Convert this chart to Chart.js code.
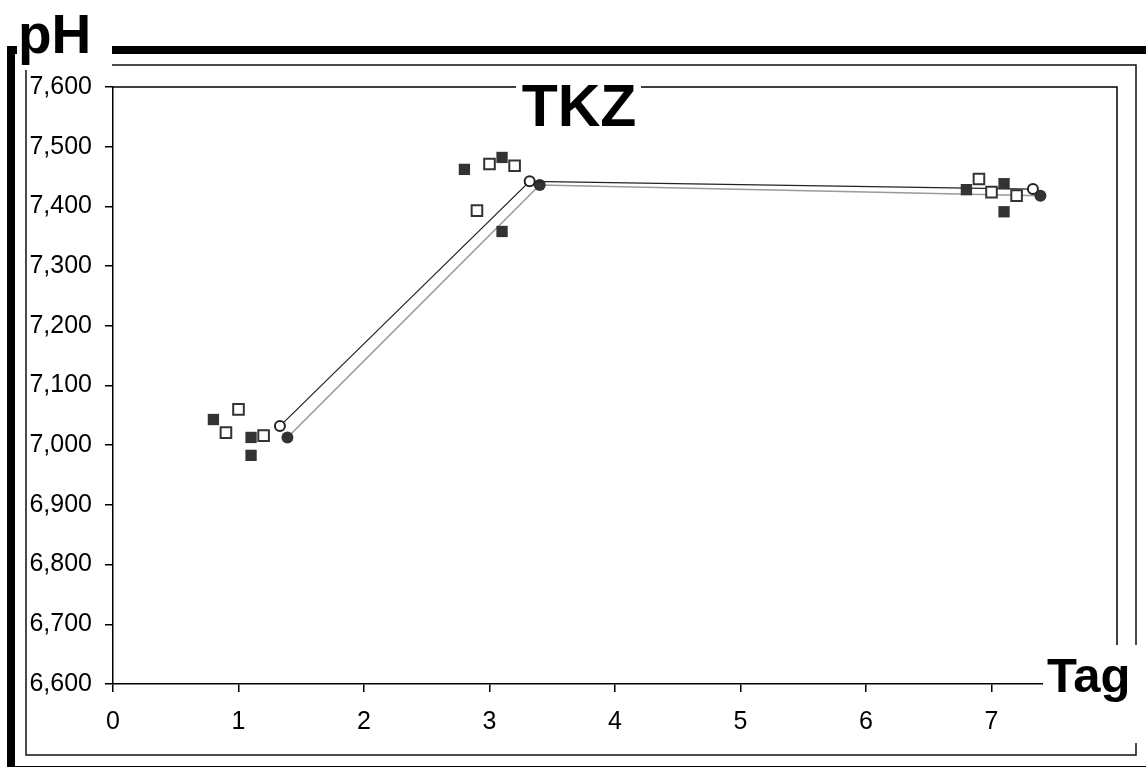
<!DOCTYPE html>
<html>
<head>
<meta charset="utf-8">
<script src="https://cdn.jsdelivr.net/npm/chart.js@4.4.1/dist/chart.umd.min.js"></script>
<style>
html,body{margin:0;padding:0;background:#fff;}
canvas{display:block;}
</style>
</head>
<body>
<canvas id="c" width="1146" height="767"></canvas>
<script>
// ---- data ----
const chartTitle = 'TKZ';
const yTitle = 'pH';
const xTitle = 'Tag';
const xTicks = [0, 1, 2, 3, 4, 5, 6, 7];
const yTicks = [6.6, 6.7, 6.8, 6.9, 7.0, 7.1, 7.2, 7.3, 7.4, 7.5, 7.6];

const filledSquaresX = [0.8, 1.1, 1.1, 2.8, 3.1, 3.1, 6.8, 7.1, 7.1];
const filledSquaresY = [7.043, 7.013, 6.983, 7.462, 7.482, 7.358, 7.428, 7.438, 7.391];
const openSquaresX = [0.9, 1.0, 1.2, 2.9, 3.0, 3.2, 6.9, 7.0, 7.2];
const openSquaresY = [7.021, 7.060, 7.016, 7.393, 7.471, 7.468, 7.446, 7.424, 7.418];
const openMeanX = [1.33, 3.32, 7.33];
const openMeanY = [7.032, 7.442, 7.429];
const filledMeanX = [1.39, 3.40, 7.39];
const filledMeanY = [7.013, 7.436, 7.418];

const toPts = (xs, ys) => xs.map((x, i) => ({x: x, y: ys[i]}));
const FONT = "'Liberation Sans', Arial, sans-serif";

const deco = {
  id: 'deco',
  afterDraw(chart) {
    const ctx = chart.ctx;
    const a = chart.chartArea;
    ctx.save();
    // plot top & right border
    ctx.strokeStyle = '#000';
    ctx.lineWidth = 1.5;
    ctx.beginPath();
    ctx.moveTo(a.left, a.top); ctx.lineTo(a.right, a.top); ctx.lineTo(a.right, a.bottom);
    ctx.stroke();
    // thin outer frame
    ctx.lineWidth = 1.5;
    ctx.strokeStyle = '#111';
    ctx.strokeRect(26, 65, 1110, 690);
    // thick frame
    ctx.lineWidth = 8;
    ctx.strokeStyle = '#000';
    ctx.strokeRect(11, 50, 1200, 720);
    // label boxes
    ctx.fillStyle = '#fff';
    ctx.fillRect(17, 0, 95, 70);
    ctx.fillRect(516, 72, 125, 50);
    ctx.fillRect(1043, 645, 103, 98);
    ctx.fillStyle = '#000';
    ctx.textBaseline = 'alphabetic';
    ctx.font = 'bold 55px ' + FONT;
    ctx.textAlign = 'left';
    ctx.fillText(yTitle, 18, 53);
    ctx.font = 'bold 59px ' + FONT;
    ctx.textAlign = 'center';
    ctx.fillText(chartTitle, 579, 126);
    ctx.font = 'bold 49px ' + FONT;
    ctx.textAlign = 'left';
    ctx.fillText(xTitle, 1047, 692);
    ctx.restore();
  }
};

new Chart(document.getElementById('c'), {
  type: 'scatter',
  data: {
    datasets: [
      {
        label: 'filled squares',
        data: toPts(filledSquaresX, filledSquaresY),
        pointStyle: 'rect', pointRadius: 8, pointHoverRadius: 8,
        backgroundColor: '#333', borderColor: '#333', borderWidth: 0,
        showLine: false
      },
      {
        label: 'open squares',
        data: toPts(openSquaresX, openSquaresY),
        pointStyle: 'rect', pointRadius: 7.5, pointHoverRadius: 7.5,
        backgroundColor: '#fff', borderColor: '#333', borderWidth: 2,
        showLine: false
      },
      {
        label: 'open mean',
        data: toPts(openMeanX, openMeanY),
        pointStyle: 'circle', pointRadius: 5, pointHoverRadius: 5,
        pointBackgroundColor: '#fff', pointBorderColor: '#222', pointBorderWidth: 2,
        showLine: true, borderColor: '#222', borderWidth: 1.2, fill: false
      },
      {
        label: 'filled mean',
        data: toPts(filledMeanX, filledMeanY),
        pointStyle: 'circle', pointRadius: 6, pointHoverRadius: 6,
        pointBackgroundColor: '#333', pointBorderColor: '#333', pointBorderWidth: 0,
        showLine: true, borderColor: '#999', borderWidth: 1.5, fill: false
      }
    ]
  },
  options: {
    responsive: false,
    animation: false,
    events: [],
    layout: { padding: { top: 87, right: 29, left: 0, bottom: 0 } },
    plugins: { legend: { display: false }, title: { display: false }, tooltip: { enabled: false } },
    scales: {
      x: {
        type: 'linear', min: 0, max: 8,
        afterBuildTicks(s) { s.ticks = xTicks.concat([8]).map(v => ({value: v})); },
        afterFit(s) { s.height = 83; },
        ticks: {
          color: '#000', font: { family: FONT, size: 25 }, padding: 15,
          maxRotation: 0, autoSkip: false,
          callback: v => (xTicks.includes(v) ? String(v) : '')
        },
        grid: { display: true, drawOnChartArea: false, drawTicks: true, tickLength: 8, color: '#000', lineWidth: 1.5 },
        border: { display: true, color: '#000', width: 1.5 }
      },
      y: {
        type: 'linear', min: 6.6, max: 7.6,
        afterBuildTicks(s) { s.ticks = yTicks.map(v => ({value: v})); },
        afterFit(s) { s.width = 113; },
        ticks: {
          color: '#000', font: { family: FONT, size: 25 }, padding: 13, autoSkip: false,
          callback: v => v.toFixed(3).replace('.', ',')
        },
        grid: { display: true, drawOnChartArea: false, drawTicks: true, tickLength: 8, color: '#000', lineWidth: 1.5 },
        border: { display: true, color: '#000', width: 1.5 }
      }
    }
  },
  plugins: [deco]
});
</script>
</body>
</html>
